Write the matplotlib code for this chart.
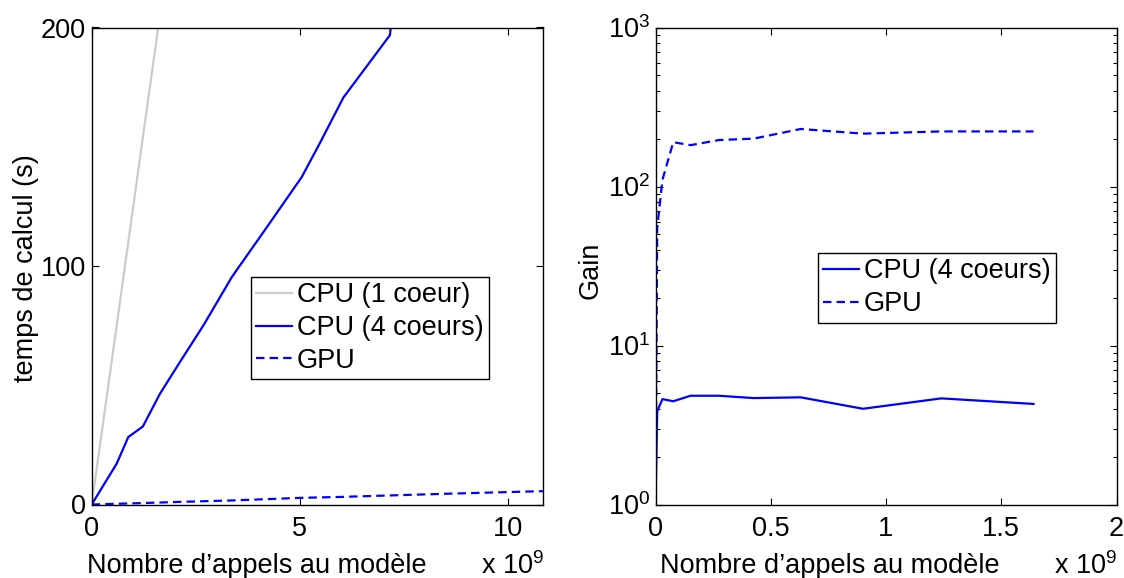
import numpy as np
import matplotlib
matplotlib.use('Agg')
import matplotlib.pyplot as plt
from matplotlib.ticker import FormatStrFormatter, LogLocator

plt.rcParams['font.family'] = ['Liberation Sans', 'DejaVu Sans']
plt.rcParams['mathtext.fontset'] = 'custom'
plt.rcParams['mathtext.rm'] = 'Liberation Sans'
plt.rcParams['mathtext.it'] = 'Liberation Sans'
plt.rcParams['font.size'] = 19.5

# temps de calcul (x en 1e9 appels)
x_cpu1 = [0, 0.6, 0.88, 1.23, 1.64, 2.12]
t_cpu1 = [0, 75, 110, 154, 205, 265]
x_cpu4 = [0, 0.6, 0.88, 1.23, 1.64, 2.12, 2.70, 3.37, 4.2, 5.05, 5.5, 6.05, 7.17, 7.25]
t_cpu4 = [0, 17.1, 28.3, 32.7, 46.4, 59.7, 75.5, 95.4, 116, 137.3, 152, 170.6, 196.8, 210]
x_gpu = [0, 0.6, 1.23, 2.12, 3.37, 5.05, 6.05, 7.17, 8.5, 10.85]
t_gpu = [0, 0.3, 0.6, 1.1, 1.7, 2.8, 3.2, 3.8, 4.5, 5.6]

# gain
x_gain = [0, 0.0075, 0.03, 0.077, 0.152, 0.276, 0.426, 0.63, 0.9, 1.24, 1.64]
gain_cpu4 = [1, 3.86, 4.6, 4.46, 4.83, 4.83, 4.67, 4.72, 4.0, 4.65, 4.29]
gain_gpu = [1, 55, 110, 190, 182, 196, 200, 230, 215, 222, 222]

W, H = 1124, 578
fig = plt.figure(figsize=(W / 100, H / 100), dpi=100)

def axpos(x0, x1, y0, y1):
    return [x0 / W, 1 - y1 / H, (x1 - x0) / W, (y1 - y0) / H]

blue = (0, 0, 1)
gray = (0.8, 0.8, 0.8)
dash = (0, (3.8, 2.3))

ax1 = fig.add_axes(axpos(91.7, 543, 27.5, 504.5))
ax1.plot(x_cpu1, t_cpu1, color=gray, lw=1.6, label='CPU (1 coeur)')
ax1.plot(x_cpu4, t_cpu4, color=blue, lw=1.6, label='CPU (4 coeurs)')
ax1.plot(x_gpu, t_gpu, color=blue, lw=1.6, ls=dash, label='GPU')
ax1.set_xlim(0, 10.85)
ax1.set_ylim(0, 200)
ax1.set_xticks([0, 5, 10])
ax1.set_yticks([0, 100, 200])

ax2 = fig.add_axes(axpos(655.5, 1116.5, 27.5, 504.5))
ax2.semilogy(x_gain, gain_cpu4, color=blue, lw=1.6, label='CPU (4 coeurs)')
ax2.semilogy(x_gain, gain_gpu, color=blue, lw=1.6, ls=dash, label='GPU')
ax2.set_xlim(0, 2)
ax2.set_ylim(1, 1000)
ax2.set_xticks([0, 0.5, 1, 1.5, 2])
ax2.xaxis.set_major_formatter(FormatStrFormatter('%g'))
ax2.yaxis.set_minor_locator(LogLocator(base=10, subs=np.arange(2, 10)))

for ax in (ax1, ax2):
    ax.tick_params(direction='in', top=True, right=True, length=5, width=0.8)
    ax.tick_params(which='minor', direction='in', right=True, length=3, width=0.8)
    ax.tick_params(axis='x', pad=8)
    ax.tick_params(axis='y', pad=4)
    for s in ax.spines.values():
        s.set_linewidth(1.0)

leg_kw = dict(loc='upper left', borderaxespad=0, fancybox=False, framealpha=1,
              edgecolor='black', handlelength=1.3, handletextpad=0.2,
              labelspacing=0.25, borderpad=0.2, fontsize=19.5)
l1 = ax1.legend(bbox_to_anchor=(251 / W, 1 - 277 / H), bbox_transform=fig.transFigure, **leg_kw)
l2 = ax2.legend(bbox_to_anchor=(818 / W, 1 - 253 / H), bbox_transform=fig.transFigure, **leg_kw)
for l in (l1, l2):
    l.get_frame().set_linewidth(1.0)

fig.text(87 / W, 1 - 566 / H, "Nombre d\u2019appels au modèle", ha='left', va='center')
fig.text(660 / W, 1 - 566 / H, "Nombre d\u2019appels au modèle", ha='left', va='center')
fig.text(481 / W, 1 - 566 / H, "x 10$^9$", ha='left', va='center')
fig.text(1054 / W, 1 - 566 / H, "x 10$^9$", ha='left', va='center')
fig.text(26 / W, 1 - 268 / H, "temps de calcul (s)", rotation=90, ha='center', va='center')
fig.text(591 / W, 1 - 270 / H, "Gain", rotation=90, ha='center', va='center')

fig.savefig('out.png', dpi=100)
